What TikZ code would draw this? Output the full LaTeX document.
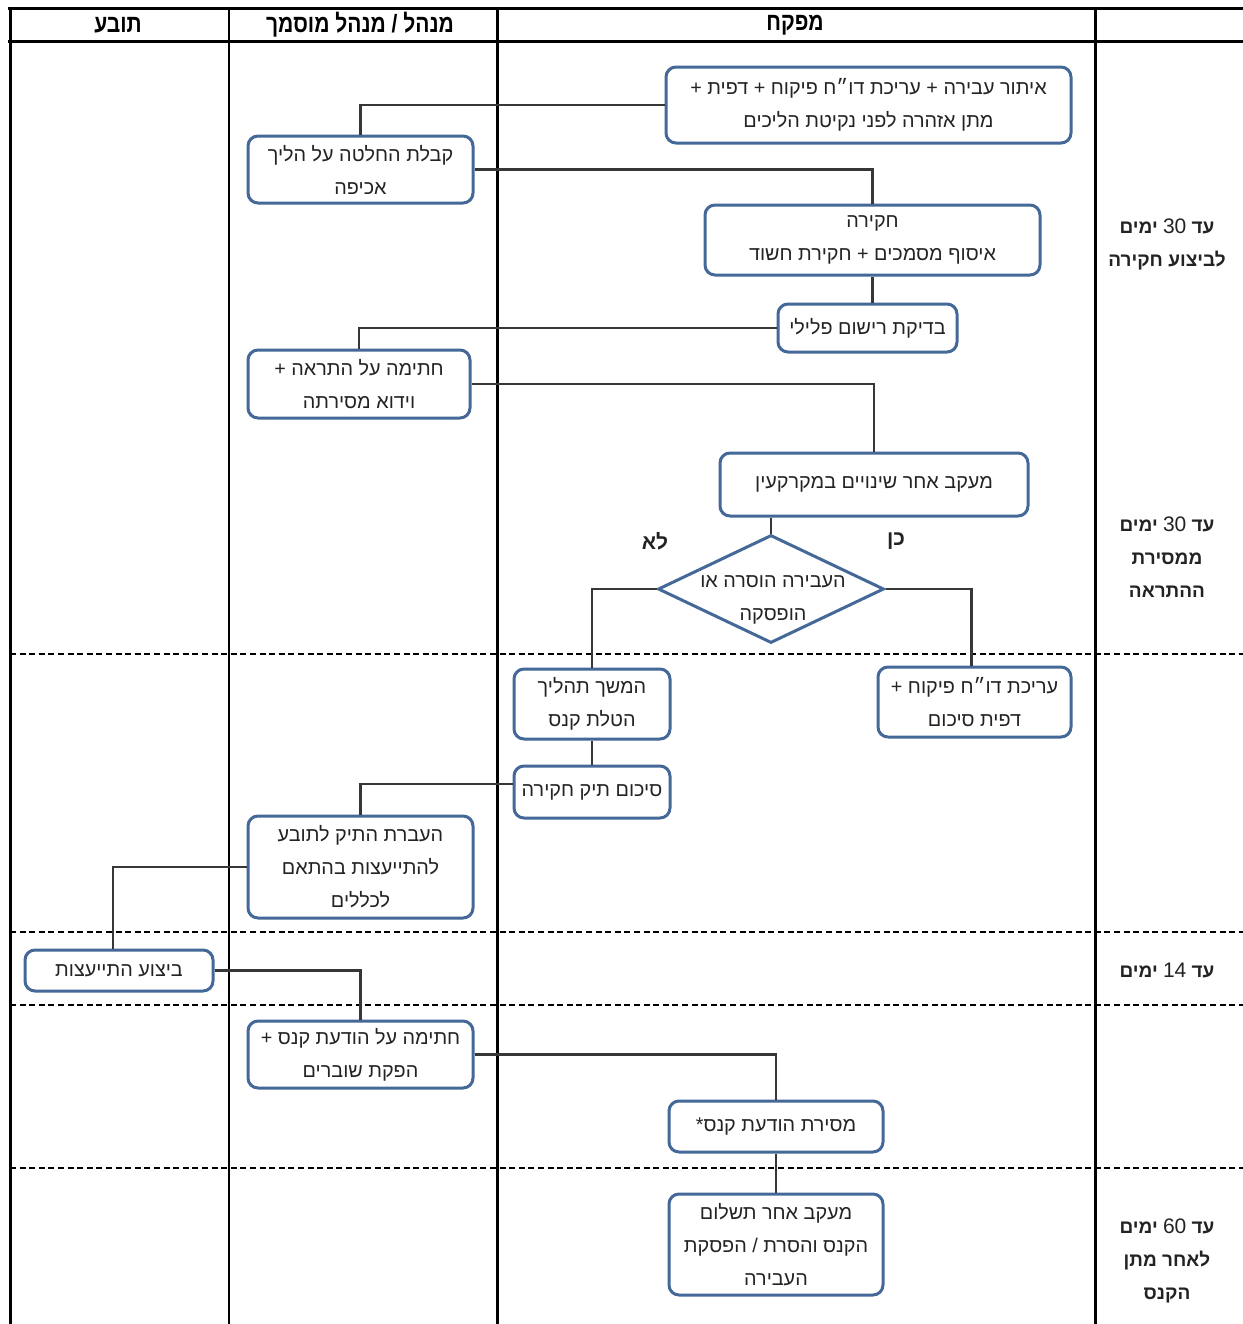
\documentclass[tikz,border=0pt]{standalone}
\usepackage{fontspec}
\setmainfont{Liberation Sans}[Script=Hebrew]
\newfontfamily\headfont{Liberation Sans}[Script=Hebrew, FakeStretch=0.84]
\TeXXeTstate=1
\usetikzlibrary{shapes.geometric}
\newcommand{\heb}[1]{\beginR #1\endR}
\newcommand{\num}[1]{\beginL{\mdseries\fontsize{10.5}{12}\selectfont #1}\endL{}}
\definecolor{boxblue}{RGB}{68,104,152}
\definecolor{linegray}{RGB}{55,55,55}
\definecolor{txt}{RGB}{35,35,35}
\tikzset{
  box/.style={draw=boxblue, line width=1.5pt, rounded corners=5pt, fill=white,
    align=center, inner sep=0pt, text=txt, font=\fontsize{9.9}{16.5}\selectfont},
  conn/.style={draw=linegray, line width=1.4pt},
  grid/.style={draw=black, line width=1.5pt},
  thin grid/.style={draw=black, line width=1pt},
  dash line/.style={draw=black, line width=0.8pt, dash pattern=on 3pt off 1.8pt},
  head/.style={font=\headfont\bfseries\fontsize{12.5}{14}\selectfont, text=black},
  side/.style={align=center, font=\bfseries\fontsize{9.5}{16.5}\selectfont, text=txt},
  yn/.style={font=\bfseries\fontsize{10.5}{12}\selectfont, text=txt}
}
\begin{document}
\begin{tikzpicture}[x=0.5pt, y=-0.5pt]
\useasboundingbox (0,0) rectangle (1243,1324);
\fill[white] (0,0) rectangle (1243,1324);
% grid
\draw[grid] (8,8) -- (1243,8);
\draw[grid] (8,41) -- (1243,41);
\draw[grid] (10,8) -- (10,1324);
\draw[thin grid] (229,8) -- (229,1324);
\draw[grid] (497,8) -- (497,1324);
\draw[grid] (1095,8) -- (1095,1324);
\draw[dash line] (10,654) -- (1243,654);
\draw[dash line] (10,932) -- (1243,932);
\draw[dash line] (10,1005) -- (1243,1005);
\draw[dash line] (10,1168) -- (1243,1168);
% headers
\node[head] (h1) at (118,25) {\heb{תובע}};
\node[head] (h2) at (360,25) {\heb{מנהל / מנהל מוסמך}};
\node[head] (h3) at (795,25) {\heb{מפקח}};
% boxes
\node[box, minimum width=202.5pt, minimum height=38pt] (A) at (868.5,105)
  {\heb{איתור עבירה + עריכת דו״ח פיקוח + דפית +}\\\heb{מתן אזהרה לפני נקיטת הליכים}};
\node[box, minimum width=112.5pt, minimum height=33.5pt] (B) at (360.5,169.5)
  {\heb{קבלת החלטה על הליך}\\\heb{אכיפה}};
\node[box, minimum width=167.5pt, minimum height=35pt] (C) at (872.5,240)
  {\heb{חקירה}\\\heb{איסוף מסמכים + חקירת חשוד}};
\node[box, minimum width=89.5pt, minimum height=24pt] (D) at (867.5,328)
  {\heb{בדיקת רישום פלילי}};
\node[box, minimum width=111pt, minimum height=34pt] (E) at (359,384)
  {\heb{חתימה על התראה +}\\\heb{וידוא מסירתה}};
\node[box, minimum width=154pt, minimum height=31.5pt] (F) at (874,484.5)
  {\heb{מעקב אחר שינויים במקרקעין}};
\node[draw=boxblue, line width=1.5pt, fill=white, diamond, inner sep=0pt,
  minimum width=113pt, minimum height=54pt] (G) at (771,589) {};
\node[align=center, text=txt, font=\fontsize{9.9}{16.5}\selectfont] (Gt) at (773,600)
  {\heb{העבירה הוסרה או}\\\heb{הופסקה}};
\node[box, minimum width=78pt, minimum height=35pt] (H) at (592,704)
  {\heb{המשך תהליך}\\\heb{הטלת קנס}};
\node[box, minimum width=96.5pt, minimum height=35pt] (I) at (974.5,702)
  {\heb{עריכת דו״ח פיקוח +}\\\heb{דפית סיכום}};
\node[box, minimum width=78pt, minimum height=26pt] (J) at (592,792)
  {\heb{סיכום תיק חקירה}};
\node[box, minimum width=112.5pt, minimum height=51pt] (K) at (360.5,867)
  {\heb{העברת התיק לתובע}\\\heb{להתייעצות בהתאם}\\\heb{לכללים}};
\node[box, minimum width=94pt, minimum height=20.5pt] (L) at (119,970.5)
  {\heb{ביצוע התייעצות}};
\node[box, minimum width=112.5pt, minimum height=33.5pt] (M) at (360.5,1054.5)
  {\heb{חתימה על הודעת קנס +}\\\heb{הפקת שוברים}};
\node[box, minimum width=107pt, minimum height=25.5pt] (N) at (776,1126.5)
  {\heb{מסירת הודעת קנס*}};
\node[box, minimum width=107pt, minimum height=50.5pt] (O) at (776,1244.5)
  {\heb{מעקב אחר תשלום}\\\heb{הקנס והסרת / הפסקת}\\\heb{העבירה}};
% yes / no
\node[yn] (no) at (655,541) {\heb{לא}};
\node[yn] (yes) at (896,541) {\heb{כן}};
% side notes
\node[side] (s1) at (1167,244) {\heb{עד \num{30} ימים}\\\heb{לביצוע חקירה}};
\node[side] (s2) at (1167,557) {\heb{עד \num{30} ימים}\\\heb{ממסירת}\\\heb{ההתראה}};
\node[side] (s3) at (1167,970) {\heb{עד \num{14} ימים}};
\node[side] (s4) at (1167,1261) {\heb{עד \num{60} ימים}\\\heb{לאחר מתן}\\\heb{הקנס}};
% connectors
\draw[conn] (A.west) -| (B.north);
\draw[conn] (B.east) -| (C.north);
\draw[conn] (C.south) -- (C.south |- D.north);
\draw[conn] (D.west) -| (E.north);
\draw[conn] (E.east) -| (F.north);
\draw[conn] (G.north |- F.south) -- (G.north);
\draw[conn] (G.west) -| (H.north);
\draw[conn] (G.east) -| ([xshift=-1.5pt]I.north);
\draw[conn] (H.south) -- (J.north);
\draw[conn] ([yshift=4pt]J.west) -| (K.north);
\draw[conn] (K.west) -| ([xshift=-3pt]L.north);
\draw[conn] (L.east) -| (M.north);
\draw[conn] (M.east) -| (N.north);
\draw[conn] (N.south) -- (O.north);
\end{tikzpicture}
\end{document}
